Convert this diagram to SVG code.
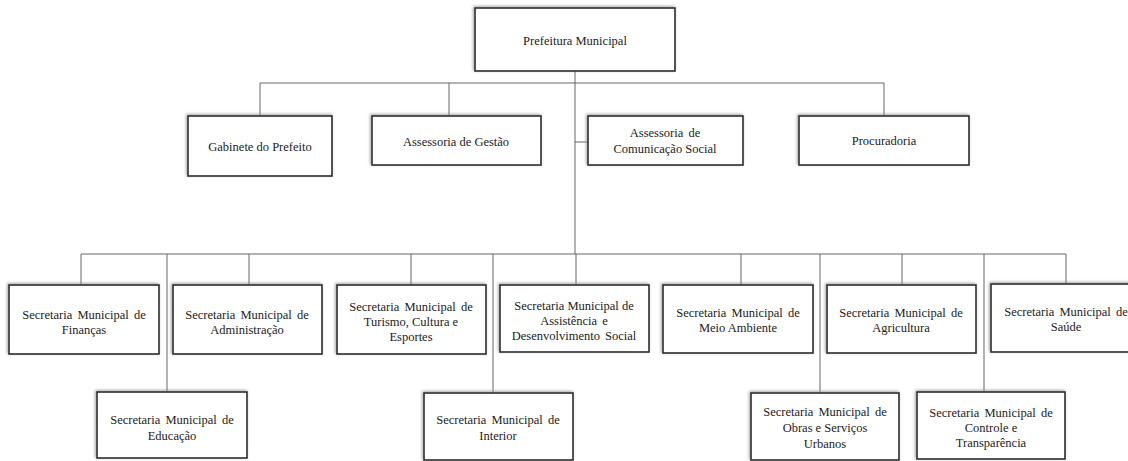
<svg xmlns="http://www.w3.org/2000/svg" width="1128" height="461" viewBox="0 0 1128 461">
<defs>
<filter id="sh" x="-10%" y="-20%" width="120%" height="140%">
<feGaussianBlur in="SourceAlpha" stdDeviation="1.6" result="b"/>
<feOffset in="b" dx="-1" dy="-1" result="o"/>
<feFlood flood-color="#888" flood-opacity="0.8"/>
<feComposite in2="o" operator="in" result="s"/>
<feMerge><feMergeNode in="s"/><feMergeNode in="SourceGraphic"/></feMerge>
</filter>
</defs>
<style>
.box{fill:#fff;stroke:#2a2a2a;stroke-width:1.6;filter:url(#sh)}
.t{font-size:12.5px;fill:#222;text-anchor:middle}
.w{word-spacing:2px}
.c{stroke:#666;stroke-width:1;fill:none}
</style>
<rect width="1128" height="461" fill="#fff"/>
<g id="connectors">
<path class="c" d="M575 71V254M260 83H884M260 83V116M449 83V116M884 83V116M575 142H588"/>
<path class="c" d="M81 254H1066M81 254V285M249 254V285M411 254V285M576 254V285M741 254V285M902 254V285M1066 254V284"/>
<path class="c" d="M167 254V392M493 254V393M820 254V393M984 254V392"/>
</g>
<g font-family="'Liberation Serif', 'DejaVu Serif', serif">
<g id="prefeitura"><rect class="box" x="475" y="8" width="200" height="63"/><text class="t" x="575" y="45">Prefeitura Municipal</text></g>
<g id="gabinete"><rect class="box" x="188" y="116" width="144" height="60"/><text class="t" x="260" y="151">Gabinete do Prefeito</text></g>
<g id="gestao"><rect class="box" x="372" y="116" width="169" height="49"/><text class="t" x="456" y="146">Assessoria de Gestão</text></g>
<g id="comunicacao"><rect class="box" x="588" y="116" width="155" height="49"/><text class="t w" x="665" y="137">Assessoria de</text><text class="t" x="665" y="153">Comunicação Social</text></g>
<g id="procuradoria"><rect class="box" x="799" y="116" width="170" height="49"/><text class="t" x="884" y="145">Procuradoria</text></g>
<g id="financas"><rect class="box" x="9" y="285" width="150" height="69"/><text class="t w" x="84" y="319">Secretaria Municipal de</text><text class="t" x="84" y="334">Finanças</text></g>
<g id="administracao"><rect class="box" x="173" y="285" width="149" height="69"/><text class="t w" x="247" y="319">Secretaria Municipal de</text><text class="t" x="247" y="334">Administração</text></g>
<g id="turismo"><rect class="box" x="337" y="285" width="149" height="69"/><text class="t w" x="411" y="311">Secretaria Municipal de</text><text class="t" x="411" y="326">Turismo, Cultura e</text><text class="t" x="411" y="341">Esportes</text></g>
<g id="assistencia"><rect class="box" x="500" y="285" width="149" height="67"/><text class="t" x="574" y="310">Secretaria Municipal de</text><text class="t w" x="574" y="325">Assistência e</text><text class="t w" x="574" y="340">Desenvolvimento Social</text></g>
<g id="meio-ambiente"><rect class="box" x="663" y="285" width="150" height="68"/><text class="t w" x="738" y="317">Secretaria Municipal de</text><text class="t" x="738" y="332">Meio Ambiente</text></g>
<g id="agricultura"><rect class="box" x="827" y="285" width="149" height="68"/><text class="t w" x="901" y="317">Secretaria Municipal de</text><text class="t" x="901" y="332">Agricultura</text></g>
<g id="saude"><rect class="box" x="991" y="284" width="150" height="68"/><text class="t w" x="1066" y="316">Secretaria Municipal de</text><text class="t" x="1066" y="331">Saúde</text></g>
<g id="educacao"><rect class="box" x="97" y="392" width="150" height="66"/><text class="t w" x="172" y="424">Secretaria Municipal de</text><text class="t" x="172" y="440">Educação</text></g>
<g id="interior"><rect class="box" x="424" y="393" width="149" height="67"/><text class="t w" x="498" y="424">Secretaria Municipal de</text><text class="t" x="498" y="440">Interior</text></g>
<g id="obras"><rect class="box" x="751" y="393" width="148" height="67"/><text class="t w" x="825" y="416">Secretaria Municipal de</text><text class="t" x="825" y="432">Obras e Serviços</text><text class="t" x="825" y="448">Urbanos</text></g>
<g id="controle"><rect class="box" x="917" y="392" width="148" height="67"/><text class="t w" x="991" y="417">Secretaria Municipal de</text><text class="t" x="991" y="432">Controle e</text><text class="t" x="991" y="447">Transparência</text></g>
</g>
</svg>
